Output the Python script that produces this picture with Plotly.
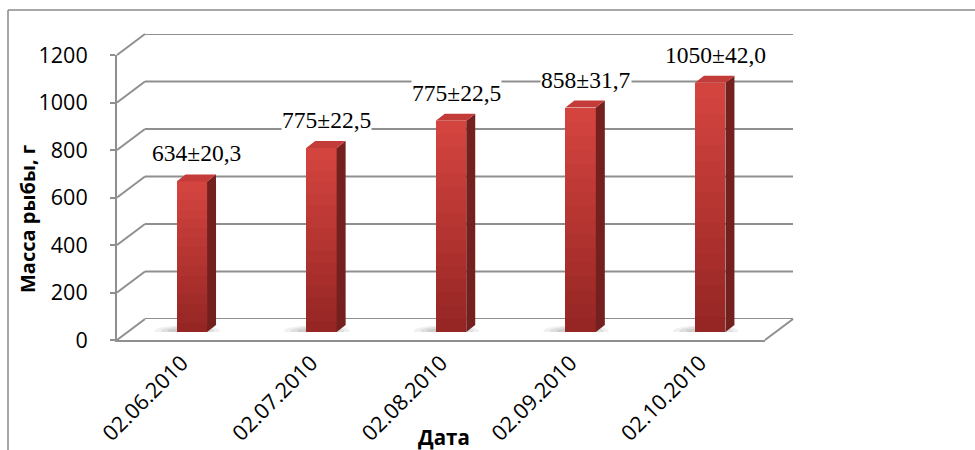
import plotly.graph_objects as go

# ---------------- data ----------------
categories = ["02.06.2010", "02.07.2010", "02.08.2010", "02.09.2010", "02.10.2010"]
values = [634, 775, 890, 945, 1050]
value_labels = ["634±20,3", "775±22,5", "775±22,5", "858±31,7", "1050±42,0"]
y_ticks = [0, 200, 400, 600, 800, 1000, 1200]
y_title = "Масса рыбы, г"
x_title = "Дата"

# ---------------- geometry (pixels) ----------------
W, H = 975, 450
FX0, FX1 = 117, 765      # front floor edge
FY_BOT, FY_TOP = 340, 55 # front plane: value 0 / 1200
DX, DY = 28, 21          # depth of the 3D box
BX, BY = 10, 8           # bar front plane offset
SDX, SDY = 9, 7          # bar depth
YMAX = 1200
BAR_W = 0.235

def px(x):
    return x / W

def py(y):
    return 1 - y / H

ppu_x = (FX1 - FX0) / len(categories)      # pixels per category unit
ppu_y = (FY_BOT - FY_TOP) / YMAX           # pixels per value unit

GRID = "#8f8f8f"

fig = go.Figure()

# gradient front faces (stacked overlay of shrinking bars)
top_c = (212, 68, 63)
bot_c = (150, 38, 36)
N = 16
for k in range(N):
    f = (N - k) / N
    t = k / (N - 1)
    c = tuple(int(round(top_c[j] + (bot_c[j] - top_c[j]) * t)) for j in range(3))
    fig.add_trace(go.Bar(
        x=list(range(len(categories))),
        y=[v * f for v in values],
        width=BAR_W,
        marker=dict(color="rgb(%d,%d,%d)" % c, line=dict(width=0)),
        xaxis="x2", yaxis="y2",
        hoverinfo="skip", showlegend=False,
    ))

# invisible front-axis trace to hold category labels
fig.add_trace(go.Scatter(
    x=list(range(len(categories))), y=[None] * len(categories),
    xaxis="x", yaxis="y", mode="markers", showlegend=False, hoverinfo="skip"))

shapes = []
# back wall gridlines
for v in y_ticks:
    shapes.append(dict(type="line", xref="x3 domain", yref="y3", x0=0, x1=1, y0=v, y1=v,
                       line=dict(color=GRID, width=2), layer="below"))
# left wall diagonals
for v in y_ticks:
    yf = FY_BOT - v * ppu_y
    shapes.append(dict(type="line", xref="paper", yref="paper",
                       x0=px(FX0), y0=py(yf), x1=px(FX0 + DX), y1=py(yf - DY),
                       line=dict(color=GRID, width=2), layer="below"))
# floor right diagonal
shapes.append(dict(type="line", xref="paper", yref="paper",
                   x0=px(FX1), y0=py(FY_BOT), x1=px(FX1 + DX), y1=py(FY_BOT - DY),
                   line=dict(color=GRID, width=2), layer="below"))
# outer frame (top and left)
shapes.append(dict(type="line", xref="paper", yref="paper", x0=px(8), y0=py(10), x1=1, y1=py(10),
                   line=dict(color="#8a8a8a", width=1.5)))
shapes.append(dict(type="line", xref="paper", yref="paper", x0=px(8), y0=py(10), x1=px(8), y1=0,
                   line=dict(color="#8a8a8a", width=1.5)))

ddx = SDX / ppu_x
ddy = SDY / ppu_y
for i, v in enumerate(values):
    xl = i - BAR_W / 2
    xr = i + BAR_W / 2
    # soft floor shadow (layered ellipses)
    for (ex0, ex1, ey0, ey1, a) in [(0.17, 0.10, -20, 28, 0.10),
                                    (0.12, 0.06, -12, 22, 0.13),
                                    (0.07, 0.02, -6, 16, 0.16)]:
        shapes.append(dict(type="circle", xref="x2", yref="y2",
                           x0=xl - ex0, x1=xr + ex1, y0=ey0, y1=ey1,
                           fillcolor="rgba(110,110,110,%.2f)" % a, line=dict(width=0),
                           layer="below"))
    # side face
    shapes.append(dict(type="path", xref="x2", yref="y2",
                       path="M %f,%f L %f,%f L %f,%f L %f,%f Z" % (
                           xr, 0, xr + ddx, ddy, xr + ddx, v + ddy, xr, v),
                       fillcolor="#74201f", line=dict(width=0)))
    # top face
    shapes.append(dict(type="path", xref="x2", yref="y2",
                       path="M %f,%f L %f,%f L %f,%f L %f,%f Z" % (
                           xl, v, xr, v, xr + ddx, v + ddy, xl + ddx, v + ddy),
                       fillcolor="#c43c39", line=dict(width=0)))

annotations = []
for i, (v, t) in enumerate(zip(values, value_labels)):
    annotations.append(dict(
        x=i, y=v, xref="x2", yref="y2", text=t, showarrow=False,
        yanchor="middle", xanchor="center", yshift=28, xshift=5,
        font=dict(family="Liberation Serif", size=23.5, color="black"),
        bgcolor="white", borderpad=0))
annotations.append(dict(
    x=px(27), y=py(219), xref="paper", yref="paper", text="<b>%s</b>" % y_title,
    textangle=-90, showarrow=False, xanchor="center", yanchor="middle",
    font=dict(family="Open Sans", size=20, color="black")))
annotations.append(dict(
    x=px(444), y=py(437), xref="paper", yref="paper", text="<b>%s</b>" % x_title,
    showarrow=False, xanchor="center", yanchor="middle",
    font=dict(family="Open Sans", size=20.5, color="black")))

hidden = dict(visible=False, automargin=False)

fig.update_layout(
    template="none",
    width=W, height=H,
    margin=dict(l=0, r=0, t=0, b=0, pad=0, autoexpand=False),
    paper_bgcolor="white", plot_bgcolor="rgba(0,0,0,0)",
    barmode="overlay", bargap=0,
    showlegend=False,
    shapes=shapes, annotations=annotations,
    font=dict(family="Open Sans", color="black"),
    xaxis=dict(domain=[px(FX0), px(FX1)], range=[-0.5, len(categories) - 0.5],
               anchor="y", tickmode="array", tickvals=list(range(len(categories))),
               ticktext=categories, tickangle=-45, showgrid=False, zeroline=False,
               showline=True, linecolor=GRID, linewidth=2, ticks="", automargin=False,
               tickfont=dict(family="Open Sans", size=21.5, color="black")),
    yaxis=dict(domain=[py(FY_BOT), py(FY_TOP)], range=[0, YMAX], anchor="x",
               tickmode="array", tickvals=y_ticks, showgrid=False, zeroline=False,
               showline=True, linecolor=GRID, linewidth=2, ticks="outside",
               ticklen=5, tickcolor=GRID, tickwidth=2, ticklabelstandoff=18, automargin=False,
               tickfont=dict(family="Open Sans", size=21.5, color="black")),
    xaxis2=dict(domain=[px(FX0 + BX), px(FX1 + BX)], range=[-0.5, len(categories) - 0.5],
                anchor="y2", **hidden),
    yaxis2=dict(domain=[py(FY_BOT - BY), py(FY_TOP - BY)], range=[0, YMAX],
                anchor="x2", **hidden),
    xaxis3=dict(domain=[px(FX0 + DX), px(FX1 + DX)], range=[-0.5, len(categories) - 0.5],
                anchor="y3", **hidden),
    yaxis3=dict(domain=[py(FY_BOT - DY), py(FY_TOP - DY)], range=[0, YMAX],
                anchor="x3", **hidden),
)

fig.write_html("out.html", post_script="document.body.style.margin='0';document.body.style.overflow='hidden';")
